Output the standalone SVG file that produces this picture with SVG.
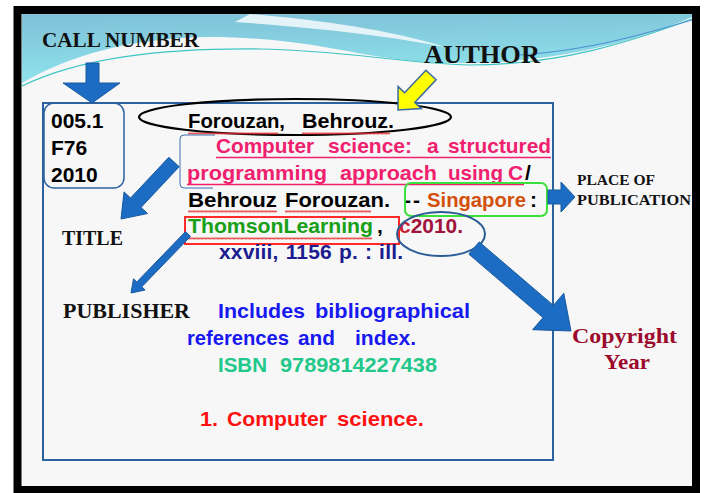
<svg xmlns="http://www.w3.org/2000/svg" width="704" height="493" viewBox="0 0 704 493">
<defs>
<linearGradient id="wave" x1="0" y1="0" x2="0.2" y2="1">
<stop offset="0" stop-color="#7fc0d8"/>
<stop offset="1" stop-color="#8fe4ec"/>
</linearGradient>
<pattern id="sq" width="4" height="3" patternUnits="userSpaceOnUse">
<path d="M0,2.5 L1,0.5 L2,2.5 L3,0.5 L4,2.5" stroke="#e43030" stroke-width="0.8" fill="none"/>
</pattern>
<style>
.lbl{font-family:"Liberation Serif","Times New Roman",serif;font-weight:bold;fill:#111}
.t{font-family:"Liberation Sans",Arial,sans-serif;font-weight:bold;font-size:21px}
.k{fill:#000}.pk{fill:#f0206e}.bl{fill:#1818f0}.nv{fill:#1c1c90}.gr{fill:#18a018}.tl{fill:#22c88a}.rd{fill:#ff1010}.or{fill:#d4500a}.cr{fill:#a0143e}
.arw{fill:#1b6cc2;stroke:#1a5a9e;stroke-width:1}
.sq{fill:url(#sq)}
</style>
</defs>
<rect x="0" y="0" width="704" height="493" fill="#ffffff"/>
<rect x="17.5" y="10" width="678.5" height="480" fill="#f7f7f7" stroke="#000" stroke-width="8"/>
<g id="wave-band">
<path d="M22,14 H692 V17 C640,40 560,62 470,63 C410,64 370,55 330,48 C290,41 250,37 210,37 C130,38 70,55 22,83 Z" fill="url(#wave)"/>
<path d="M250,14 C320,20 390,30 445,47 C390,36 320,28 235,22 Z" fill="#f4fafc" opacity="0.85"/>
<path d="M22,86 C80,58 160,48 260,49 C340,50 400,63 470,65 C560,65 630,42 692,19" fill="none" stroke="#3ec4c4" stroke-width="1.2"/>
<path d="M520,55 C590,50 640,35 692,20" fill="none" stroke="#4a8ed0" stroke-width="1"/>
</g>
<rect x="43" y="103" width="510" height="357" fill="none" stroke="#2d62a0" stroke-width="2"/>
<g id="call-number-label"><text class="lbl" x="42" y="47" font-size="20" textLength="157" lengthAdjust="spacingAndGlyphs">CALL NUMBER</text></g>
<g id="call-number">
<rect x="44" y="103" width="80" height="85" rx="10" fill="none" stroke="#2d62a0" stroke-width="1.5"/>
<text class="t k" x="51" y="128">005.1</text>
<text class="t k" x="51" y="155">F76</text>
<text class="t k" x="51" y="182">2010</text>
</g>
<g id="author-label"><text class="lbl" x="424" y="63" font-size="25" textLength="116" lengthAdjust="spacingAndGlyphs">AUTHOR</text></g>
<g id="author">
<ellipse cx="295" cy="117" rx="156" ry="18" fill="none" stroke="#000" stroke-width="2.2"/>
<text class="t k" x="188" y="128" textLength="97" lengthAdjust="spacingAndGlyphs">Forouzan,</text>
<text class="t k" x="302" y="128" textLength="92" lengthAdjust="spacingAndGlyphs">Behrouz.</text>
<rect class="sq" x="188" y="132" width="90" height="3"/>
<rect class="sq" x="302" y="132" width="88" height="3"/>
</g>
<g id="title">
<path d="M215,135 H184 Q180,135 180,139 V184 Q180,188 184,188 H213" fill="none" stroke="#3a70b0" stroke-width="1"/>
<text class="t pk" x="216" y="153" textLength="98" lengthAdjust="spacingAndGlyphs">Computer</text>
<text class="t pk" x="328" y="153" textLength="84" lengthAdjust="spacingAndGlyphs">science:</text>
<text class="t pk" x="427" y="153">a</text>
<text class="t pk" x="448" y="153" textLength="103" lengthAdjust="spacingAndGlyphs">structured</text>
<line x1="216" y1="157.5" x2="551" y2="157.5" stroke="#f0206e" stroke-width="1.6"/>
<text class="t pk" x="187" y="180" textLength="140" lengthAdjust="spacingAndGlyphs">programming</text>
<text class="t pk" x="340" y="180" textLength="97" lengthAdjust="spacingAndGlyphs">approach</text>
<text class="t pk" x="448" y="180" textLength="55" lengthAdjust="spacingAndGlyphs">using</text>
<text class="t pk" x="508" y="180">C</text>
<text class="t k" x="525" y="180">/</text>
<line x1="187" y1="184.5" x2="524" y2="184.5" stroke="#f0206e" stroke-width="1.6"/>
</g>
<g id="statement">
<text class="t k" x="188" y="207" textLength="89" lengthAdjust="spacingAndGlyphs">Behrouz</text>
<text class="t k" x="285" y="207" textLength="105" lengthAdjust="spacingAndGlyphs">Forouzan.</text>
<text class="t k" x="404" y="207">-</text>
<text class="t k" x="413" y="207">-</text>
<text class="t or" x="427" y="207" textLength="99" lengthAdjust="spacingAndGlyphs">Singapore</text>
<text class="t k" x="530" y="207">:</text>
<rect class="sq" x="188" y="210" width="89" height="3"/>
<rect class="sq" x="285" y="210" width="86" height="3"/>
</g>
<g id="place">
<rect x="405" y="183" width="142" height="33" rx="6" fill="none" stroke="#3ce03c" stroke-width="2"/>
</g>
<g id="publisher">
<rect x="185" y="217" width="214" height="27" fill="none" stroke="#ff2a2a" stroke-width="2"/>
<text class="t gr" x="188" y="233" textLength="185" lengthAdjust="spacingAndGlyphs">ThomsonLearning</text>
<text class="t k" x="377" y="233">,</text>
<text class="t" x="399" y="233" textLength="64" lengthAdjust="spacingAndGlyphs"><tspan fill="#c81e32">c</tspan><tspan fill="#a0143e">2010.</tspan></text>
<rect class="sq" x="188" y="237" width="184" height="3"/>
</g>
<g id="year">
<ellipse cx="441" cy="234" rx="44" ry="22" fill="none" stroke="#2a5d96" stroke-width="2"/>
</g>
<g id="details">
<text class="t nv" x="219" y="259" textLength="184" lengthAdjust="spacing" word-spacing="1">xxviii, 1156 p. : ill.</text>
<text class="t bl" x="218" y="318" textLength="87" lengthAdjust="spacingAndGlyphs">Includes</text>
<text class="t bl" x="315" y="318" textLength="155" lengthAdjust="spacingAndGlyphs">bibliographical</text>
<text class="t bl" x="187" y="345" textLength="102" lengthAdjust="spacingAndGlyphs">references</text>
<text class="t bl" x="298" y="345" textLength="37" lengthAdjust="spacingAndGlyphs">and</text>
<text class="t bl" x="355" y="345" textLength="61" lengthAdjust="spacingAndGlyphs">index.</text>
<text class="t tl" x="218" y="372" textLength="49" lengthAdjust="spacingAndGlyphs">ISBN</text>
<text class="t tl" x="280" y="372" textLength="157" lengthAdjust="spacingAndGlyphs">9789814227438</text>
<text class="t rd" x="200" y="426" textLength="18" lengthAdjust="spacingAndGlyphs">1.</text>
<text class="t rd" x="227" y="426" textLength="100" lengthAdjust="spacingAndGlyphs">Computer</text>
<text class="t rd" x="337" y="426" textLength="87" lengthAdjust="spacingAndGlyphs">science.</text>
</g>
<g id="title-label"><text class="lbl" x="62" y="245" font-size="20" textLength="61" lengthAdjust="spacingAndGlyphs">TITLE</text></g>
<g id="publisher-label"><text class="lbl" x="63" y="318" font-size="20" textLength="127" lengthAdjust="spacingAndGlyphs">PUBLISHER</text></g>
<g id="place-label">
<text class="lbl" x="577" y="185" font-size="15.5" textLength="78" lengthAdjust="spacingAndGlyphs">PLACE OF</text>
<text class="lbl" x="577" y="205" font-size="15.5" textLength="114" lengthAdjust="spacingAndGlyphs">PUBLICATION</text>
</g>
<g id="copyright-label">
<text class="lbl" x="572" y="343" font-size="22" style="fill:#9c0a2c" textLength="105" lengthAdjust="spacingAndGlyphs">Copyright</text>
<text class="lbl" x="604" y="369" font-size="22" style="fill:#9c0a2c" textLength="46" lengthAdjust="spacingAndGlyphs">Year</text>
</g>
<g id="connectors">
<polygon class="arw" points="86,63 99,63 99,83 120,83 92,103 63,83 86,83"/>
<polygon points="425.9,70.2 436.1,79.8 414.8,102.4 421.3,108.6 398,110 398.1,86.6 404.6,92.8" fill="#ffff00" stroke="#3a6aa0" stroke-width="1.5"/>
<polygon class="arw" points="168.8,157.3 179.2,166.7 141,207.4 147.6,213.5 121,219 124,191.9 130.6,198"/>
<polygon class="arw" points="185.5,231.6 190.5,236.4 141.8,286.8 145.1,290 131,293 133.5,278.8 136.8,282"/>
<polygon class="arw" points="548,190 561,190 561,182 575,197 561,212 561,204 548,204"/>
<polygon class="arw" points="479.2,241.9 553.4,305.4 563.8,293.3 571,331 532.6,329.7 543,317.6 468.8,254.1"/>
</g>
</svg>
